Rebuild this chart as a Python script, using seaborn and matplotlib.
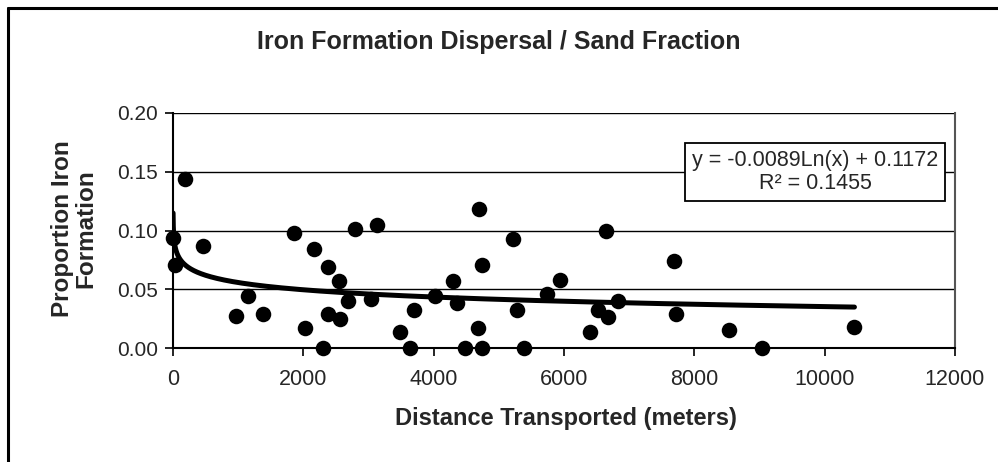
import numpy as np
import pandas as pd
import matplotlib
matplotlib.use("Agg")
import matplotlib.pyplot as plt
import seaborn as sns
from matplotlib.lines import Line2D

# ---- data ----
distance_m = [5, 31, 185, 467, 969, 1149, 1380, 1862, 2031, 2159, 2303, 2374, 2374,
              2554, 2569, 2682, 2800, 3041, 3133, 3477, 3636, 3697, 4015, 4303, 4364,
              4477, 4687, 4697, 4738, 4738, 5210, 5277, 5390, 5738, 5943, 6400, 6518,
              6646, 6672, 6826, 7682, 7713, 8533, 9031, 10457]
proportion_if = [0.094, 0.071, 0.144, 0.087, 0.027, 0.044, 0.029, 0.098, 0.017, 0.084,
                 0.000, 0.069, 0.029, 0.057, 0.025, 0.040, 0.101, 0.042, 0.105, 0.014,
                 0.000, 0.032, 0.044, 0.057, 0.038, 0.000, 0.017, 0.118, 0.071, 0.000,
                 0.093, 0.032, 0.000, 0.046, 0.058, 0.014, 0.032, 0.100, 0.026, 0.040,
                 0.074, 0.029, 0.015, 0.000, 0.018]

# logarithmic trendline as given on the chart
fit_slope = -0.0089
fit_intercept = 0.1172
fit_r2 = 0.1455
fit_x_start, fit_x_end = 1.3, 10457

x_ticks = [0, 2000, 4000, 6000, 8000, 10000, 12000]
y_ticks = [0.00, 0.05, 0.10, 0.15, 0.20]
y_tick_labels = ["0.00", "0.05", "0.10", "0.15", "0.20"]

title = "Iron Formation Dispersal / Sand Fraction"
x_label = "Distance Transported (meters)"
y_label = "Proportion Iron\nFormation"

df = pd.DataFrame({"distance": distance_m, "prop": proportion_if})
fit_x = np.geomspace(fit_x_start, fit_x_end, 300)
fit_df = pd.DataFrame({"distance": fit_x, "prop": fit_slope * np.log(fit_x) + fit_intercept})

# ---- figure ----
sns.set_theme(style="white")
plt.rcParams["font.family"] = ["Liberation Sans", "DejaVu Sans"]

W, H = 998, 462
fig = plt.figure(figsize=(W / 100, H / 100), dpi=100)
fig.patch.set_facecolor("white")

L, R, T, B = 173, 955, 113, 348
ax = fig.add_axes([L / W, 1 - B / H, (R - L) / W, (B - T) / H])
ax.set_facecolor("white")

ax.set_xlim(0, 12000)
ax.set_ylim(0, 0.20)

for yv in y_ticks[1:]:
    ax.axhline(yv, color="black", lw=1.0, zorder=1)

sns.lineplot(data=fit_df, x="distance", y="prop", ax=ax, color="black", lw=3.6,
             zorder=3, sort=False, estimator=None)
sns.scatterplot(data=df, x="distance", y="prop", ax=ax, color="black", s=125,
                edgecolor="black", linewidth=0, zorder=4, clip_on=False)

ax.set_xticks(x_ticks)
ax.set_xticklabels([str(v) for v in x_ticks], fontsize=15.5)
ax.set_yticks(y_ticks)
ax.set_yticklabels(y_tick_labels, fontsize=15)
ax.tick_params(axis="both", direction="out", length=6, width=1.2, color="black", pad=5,
               bottom=True, left=True)
ax.tick_params(axis="x", pad=9)

for s in ["left", "bottom"]:
    ax.spines[s].set_color("black")
    ax.spines[s].set_linewidth(1.5)
ax.spines["top"].set_visible(False)
ax.spines["right"].set_color("#555555")
ax.spines["right"].set_linewidth(1.5)
ax.spines["right"].set_linestyle((0, (1, 1)))

ax.set_xlabel("")
ax.set_ylabel("")

# equation box
ax.text((815 - L) / (R - L), (348 - 172) / (B - T),
        f"y = {fit_slope:.4f}Ln(x) + {fit_intercept:.4f}\nR\u00b2 = {fit_r2:.4f}",
        transform=ax.transAxes, ha="center", va="center", fontsize=15.5,
        linespacing=1.15, zorder=6,
        bbox=dict(boxstyle="square,pad=0.3", facecolor="white", edgecolor="black", lw=1.3))

# titles
fig.text(499 / W, 1 - 42 / H, title, ha="center", va="center", fontsize=18,
         fontweight="bold")
fig.text(566 / W, 1 - 418 / H, x_label, ha="center", va="center", fontsize=17,
         fontweight="bold")
fig.text(74 / W, 1 - 229 / H, y_label, ha="center", va="center", fontsize=17.5,
         fontweight="bold", rotation=90, linespacing=1.05)

# outer frame (top and left)
fig.add_artist(Line2D([8 / W, 1.0], [1 - 8 / H, 1 - 8 / H], color="black", lw=2.2,
                      transform=fig.transFigure))
fig.add_artist(Line2D([8 / W, 8 / W], [0, 1 - 8 / H], color="black", lw=2.2,
                      transform=fig.transFigure))

fig.savefig("out.png", dpi=100, facecolor="white")
